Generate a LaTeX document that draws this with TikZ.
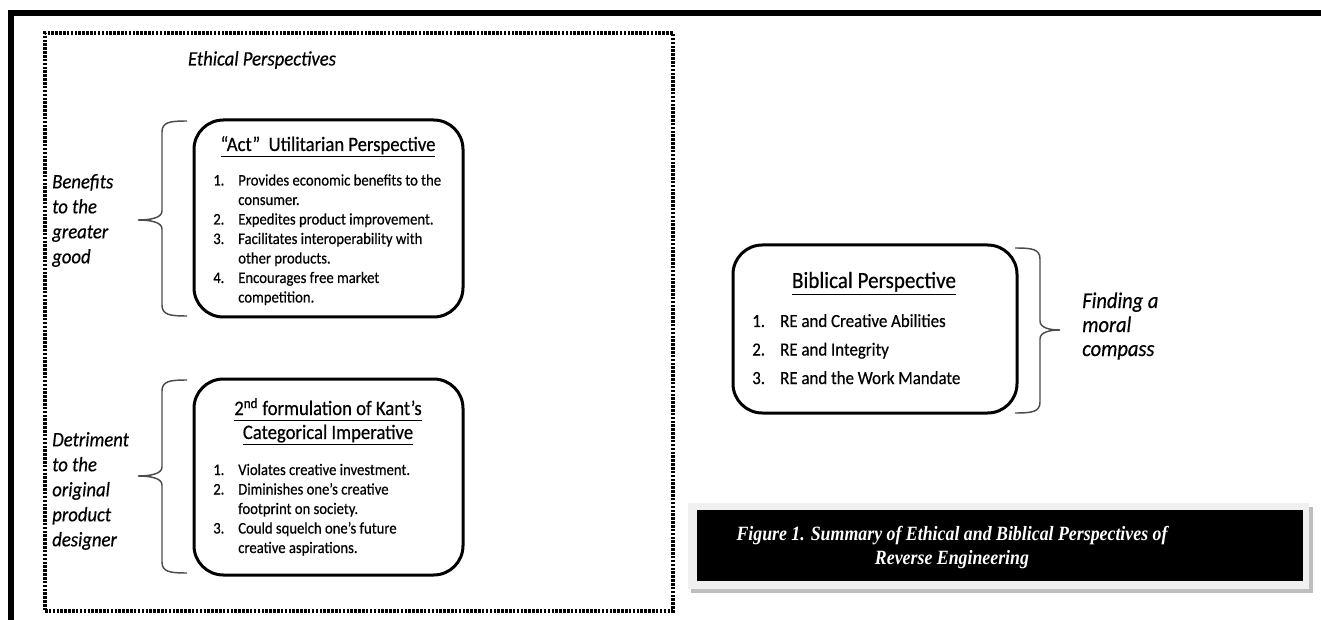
\documentclass[tikz,border=0pt]{standalone}
\usepackage{fontspec}
\setmainfont{Carlito}[FakeStretch=0.91, FakeBold=0.5]
\newfontfamily\capfont{Liberation Serif}[FakeStretch=0.88]
\usetikzlibrary{fit}
\newcommand\myul[1]{\underline{#1\vphantom{gp}}}
\tikzset{
  rbox/.style={draw=black, line width=2.25pt, rounded corners=22pt, inner sep=0pt},
  brc/.style={draw=black!70, line width=1.1pt},
  dotbox/.style={draw=black, line width=2.3pt, dash pattern=on 1.9pt off 1.0pt, inner sep=0pt},
  lbl/.style={font=\fontsize{15.4}{18.75}\selectfont\itshape, align=left, inner sep=0pt, anchor=west},
  ttl/.style={font=\fontsize{15.4}{18}\selectfont, inner sep=0pt, anchor=base},
  lst/.style={inner sep=0pt, anchor=base west},
  captxt/.style={font=\capfont\bfseries\itshape\fontsize{15.2}{18}\selectfont, text=white, inner sep=0pt, anchor=base},
}
\begin{document}
\begin{tikzpicture}[x=0.75pt,y=-0.75pt]
\useasboundingbox (0,0) rectangle (1321,620);
% page border
\fill[black] (8,10) rectangle (1321,16);
\fill[black] (8,10) rectangle (14,620);
% dotted frame
\node[dotbox, fit={(45,33)(673,611)}] (frame) {};
\node[font=\fontsize{15.4}{18}\selectfont\itshape, inner sep=0pt] (eth) at (262,60) {Ethical Perspectives};
% act utilitarian box
\node[rbox, fit={(194,120)(463,317)}] (act) {};
\node[ttl] (acttitle) at (328,151) {\myul{“Act”\ \ Utilitarian Perspective}};
\node[lst] (actlist) at (213,185.5) {\fontsize{12.1}{14.625}\selectfont
\begin{tabular}[t]{@{}p{18.75pt}@{}l@{}}
1. & Provides economic benefits to the\\
   & consumer.\\
2. & Expedites product improvement.\\
3. & Facilitates interoperability with\\
   & other products.\\
4. & Encourages free market\\
   & competition.
\end{tabular}};
% Kant box
\node[rbox, fit={(194,379)(463,575)}] (kant) {};
\node[ttl] (kt1) at (328,415) {\myul{2\textsuperscript{nd} formulation of Kant’s}};
\node[ttl] (kt2) at (328,439) {\myul{Categorical Imperative}};
\node[lst] (kantlist) at (213,475) {\fontsize{12.1}{14.625}\selectfont
\begin{tabular}[t]{@{}p{18.75pt}@{}l@{}}
1. & Violates creative investment.\\
2. & Diminishes one’s creative\\
   & footprint on society.\\
3. & Could squelch one’s future\\
   & creative aspirations.
\end{tabular}};
% left labels
\node[lbl] (lab1) at (52,220.5) {Benefits\\to the\\greater\\good};
\node[lbl] (lab2) at (52,491) {Detriment\\to the\\original\\product\\designer};
% left braces
\draw[brc] (187,121) .. controls (170,121) and (162,122) .. (162,132) -- (162,211)
  .. controls (162,218) and (150,220) .. (138,220)
  .. controls (150,220) and (162,222) .. (162,229) -- (162,305)
  .. controls (162,315) and (170,316) .. (187,316);
\draw[brc] (187,380) .. controls (170,380) and (162,381) .. (162,391) -- (162,467)
  .. controls (162,474) and (150,476) .. (138,476)
  .. controls (150,476) and (162,478) .. (162,485) -- (162,562)
  .. controls (162,572) and (170,573) .. (187,573);
% biblical box
\node[rbox, fit={(733,245)(1017,413)}] (bib) {};
\node[font=\fontsize{17.4}{19}\selectfont, inner sep=0pt, anchor=base] (bibtitle) at (874,288) {\myul{Biblical Perspective}};
\node[lst] (biblist) at (752,327) {\fontsize{13.9}{21.4}\selectfont
\begin{tabular}[t]{@{}p{21pt}@{}l@{}}
1. & RE and Creative Abilities\\
2. & RE and Integrity\\
3. & RE and the Work Mandate
\end{tabular}};
% right brace
\draw[brc] (1015,248) .. controls (1032,248) and (1040,249) .. (1040,259) -- (1040,321)
  .. controls (1040,328) and (1050,330) .. (1060,330)
  .. controls (1050,330) and (1040,332) .. (1040,339) -- (1040,402)
  .. controls (1040,412) and (1032,413) .. (1015,413);
\node[lbl, font=\fontsize{16.9}{18}\selectfont\itshape] (lab3) at (1082,326) {Finding a\\moral\\compass};
% caption
\fill[black!25] (691,507) rectangle (1313,593);
\fill[black!6] (688,503) rectangle (1309,589);
\node[fill=black, inner sep=0pt, fit={(697,510)(1303,581)}] (capbox) {};
\node[captxt] (cap1) at (952,540) {Figure 1. Summary of Ethical and Biblical Perspectives of};
\node[captxt] (cap2) at (952,564) {Reverse Engineering};
\end{tikzpicture}
\end{document}
